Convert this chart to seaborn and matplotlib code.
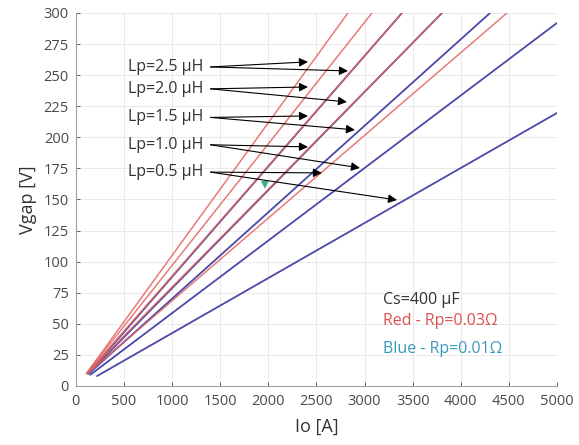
import matplotlib
matplotlib.use("Agg")
import matplotlib.pyplot as plt
import seaborn as sns
import pandas as pd

# ---- data ----
lp_values = [2.5, 2.0, 1.5, 1.0, 0.5]            # µH
# red family (Rp = 0.03 Ω): start / end points
red_io_start = [110, 110, 115, 115, 120]
red_v_start = [10, 10, 10, 10, 10]
red_io_end = [2827, 3077, 3389, 3805, 4480]
red_v_end = [300, 300, 300, 300, 300]
# blue family (Rp = 0.01 Ω)
blue_io_start = [125, 130, 135, 150, 220]
blue_v_start = [10, 10, 10, 9, 8]
blue_io_end = [3389, 3805, 4304, 5000, 5000]
blue_v_end = [300, 300, 300, 292, 219.6]

# arrow tips per label (two per label)
label_v = [256.6, 239.0, 216.0, 194.0, 172.0]
tip1_io = [2412, 2412, 2412, 2412, 2557]
tip1_v = [260.7, 240.5, 217.2, 192.3, 171.4]
tip2_io = [2827, 2817, 2900, 2952, 3337]
tip2_v = [253.4, 228.5, 206.0, 175.4, 149.6]

marker_io = [1965]
marker_v = [161.7]

x_ticks = list(range(0, 5001, 500))
y_ticks = list(range(0, 301, 25))

rows = []
for fam, a, b, c, d in (("blue", blue_io_start, blue_v_start, blue_io_end, blue_v_end),
                        ("red", red_io_start, red_v_start, red_io_end, red_v_end)):
    for i, lp in enumerate(lp_values):
        rows.append(dict(fam=fam, lp=lp, Io=a[i], V=b[i]))
        rows.append(dict(fam=fam, lp=lp, Io=c[i], V=d[i]))
df = pd.DataFrame(rows)

sns.set_theme(style="whitegrid")
plt.rcParams['font.family'] = ['Open Sans', 'DejaVu Sans']

fig = plt.figure(figsize=(5.79, 4.45), dpi=100)
ax = fig.add_axes([0.131, 0.1326, 0.831, 0.8382])

sns.lineplot(data=df[df.fam == "blue"], x="Io", y="V", units="lp", estimator=None,
             color="#4a48a8", lw=1.3, ax=ax, legend=False)
sns.lineplot(data=df[df.fam == "red"], x="Io", y="V", units="lp", estimator=None,
             color="#e2645f", lw=1.1, alpha=0.85, ax=ax, legend=False)

sns.scatterplot(x=marker_io, y=marker_v, marker="v", s=32, color="#3aae8a",
                edgecolor="none", ax=ax, legend=False, zorder=5)

text_io = 540
arrow_start_io = 1400
for i, lp in enumerate(lp_values):
    ax.text(text_io, label_v[i], f"Lp={lp:.1f} µH", ha="left", va="center",
            fontsize=11.5, color="#333333")
    for tx, ty in ((tip1_io[i], tip1_v[i]), (tip2_io[i], tip2_v[i])):
        ax.annotate("", xy=(tx, ty), xytext=(arrow_start_io, label_v[i]),
                    arrowprops=dict(arrowstyle="-|>", color="black", lw=0.8,
                                    mutation_scale=13, shrinkA=0, shrinkB=0))

ax.text(3191, 69, "Cs=400 µF", fontsize=11.5, color="#333333", va="center")
ax.text(3191, 52, "Red - Rp=0.03Ω", fontsize=11.5, color="#e05050", va="center")
ax.text(3191, 30, "Blue - Rp=0.01Ω", fontsize=11.5, color="#3a98c0", va="center")

ax.set_xlim(0, 5000)
ax.set_ylim(0, 300)
ax.set_xticks(x_ticks)
ax.set_yticks(y_ticks)
ax.set_xlabel("Io [A]", fontsize=13, color="#333333", labelpad=6)
ax.set_ylabel("Vgap [V]", fontsize=13, color="#333333", labelpad=5)
ax.tick_params(axis="both", labelsize=10.5, colors="#4a4a4a", direction="in",
               length=3, width=0.6, left=True, bottom=True)
ax.tick_params(axis="x", pad=6)
ax.tick_params(axis="y", pad=5)
ax.grid(True, color="#e6e6e6", lw=0.6)
ax.set_facecolor("white")
for s in ("top", "right"):
    ax.spines[s].set_visible(False)
for s in ("left", "bottom"):
    ax.spines[s].set_visible(True)
    ax.spines[s].set_color("#a0a0a0")
    ax.spines[s].set_linewidth(0.8)

fig.savefig("out.png", dpi=100)
